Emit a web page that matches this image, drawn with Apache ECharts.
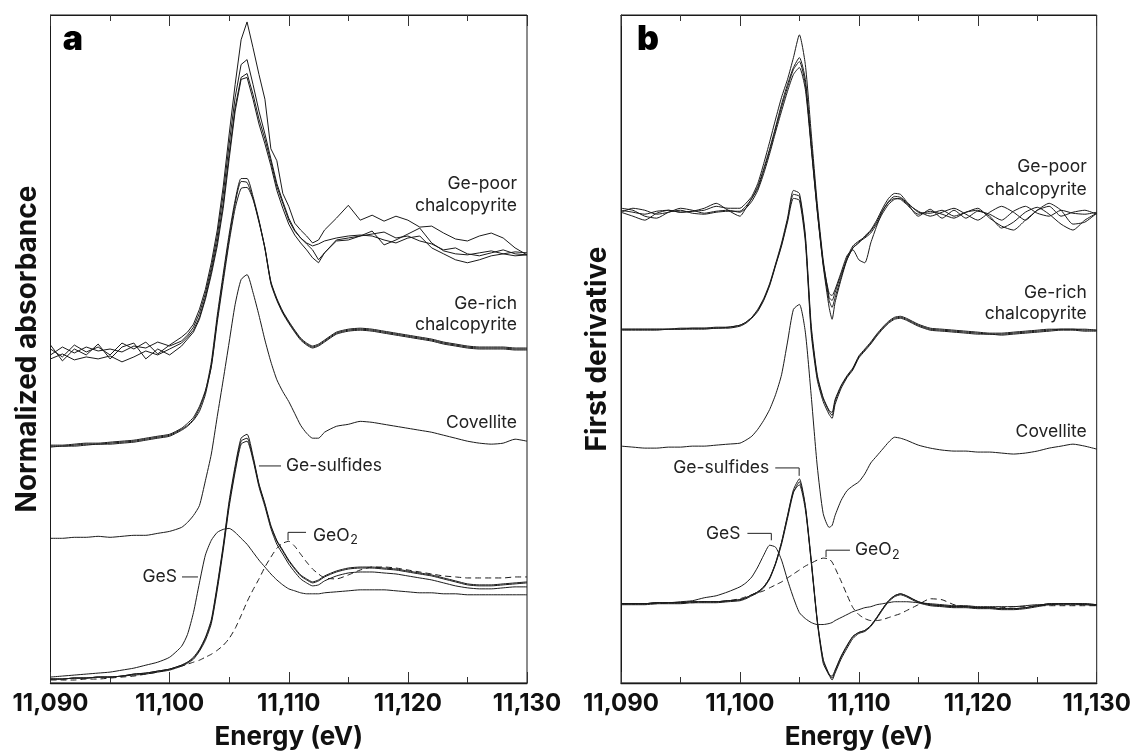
<!DOCTYPE html>
<html><head><meta charset="utf-8">
<script src="https://cdn.jsdelivr.net/npm/echarts@6/dist/echarts.min.js"></script>
<style>html,body{margin:0;padding:0;background:#fff}#c{width:1134px;height:755px}</style>
</head><body><div id="c"></div>
<script>
// ---------- DATA (arbitrary units, stacked offsets as in the figure) ----------
const energyA = [11090,11091,11092,11093,11094,11095,11096,11097,11098,11099,11100,11101,11101.5,11102,11102.5,11103,11103.5,11104,11104.5,11105,11105.5,11106,11106.5,11107,11107.5,11108,11108.5,11109,11109.5,11110,11110.5,11111,11111.5,11112,11112.5,11113,11114,11115,11116,11117,11118,11119,11120,11121,11122,11123,11124,11125,11126,11127,11128,11129,11130];

const gePoorA1 = [337,329,341,334,339,331,343,337,344,332,341,349, 354,362,377,397,424,457,501,554,604,649,667, 641,614,589,539,527,494,481,464,457,451,444,447,457, 469,482,467,472,466,471,467,460,461,454,448,446,451,454,449,439,432];
const gePoorA2 = [331,339,333,339,335,337,334,340,338,344,340,345, 351,359,373,393,419,451,493,544,591,624,629, 604,577,554,529,504,486,469,457,449,443,437,427,434, 447,449,451,453,455,449,451,446,443,437,439,433,431,434,437,433,432];
const gePoorA3 = [327,332,326,329,327,330,324,329,335,331,337,343, 349,356,369,389,415,445,484,534,581,611,615, 594,569,549,526,501,484,467,456,449,444,441,443,446, 449,451,452,451,447,444,449,451,439,433,427,424,427,431,433,435,434];
const gePoorA4 = [341,325,337,331,342,327,339,343,327,337,331,340, 347,354,367,387,412,441,479,529,577,609,611, 589,564,544,522,497,479,463,452,444,437,429,424,434, 446,447,451,456,442,447,453,459,444,436,433,432,434,436,433,431,432];

const geRichA1 = [239,239,240,241,241,242,243,244,246,248,250,256, 260,266,277,294,324,371,413,453,487,509,509, 491,467,439,404,387,374,364,355,347,342,339,341,345, 353,356,357,356,354,352,350,348,346,343,341,339,338,338,338,337,337];
const geRichA2 = [238,239,239,240,241,241,242,243,245,247,249,255, 259,265,274,291,320,367,409,449,484,506,505, 489,466,438,403,386,373,363,354,346,341,338,340,344, 352,355,356,355,353,351,349,347,345,342,340,338,337,337,337,336,336];
const geRichA3 = [240,240,241,242,242,243,244,245,247,249,251,257, 262,268,279,295,319,364,405,445,479,499,500, 488,465,439,405,388,375,365,356,348,343,340,342,346, 354,357,358,357,355,353,351,349,347,344,342,340,339,339,339,338,338];

const covelliteA = [146,146,147,147,148,147,148,149,149,151,153,157, 162,169,179,204,231,269,306,344,382,407,412, 394,371,346,324,306,294,284,272,260,252,247,247,253, 259,261,264,263,261,259,257,255,253,250,247,244,242,241,242,246,244];

const geSulfidesA1 = [4,4,5,5,6,6,7,9,10,12,14,18, 21,26,34,46,64,99,139,184,219,247,251, 229,201,181,159,144,134,124,116,109,105,102,104,108, 113,116,117,117,116,115,113,111,109,106,103,100,99,99,100,101,102];
const geSulfidesA2 = [4,4,5,5,6,6,7,9,10,12,14,18, 21,25,33,45,62,97,137,181,216,244,247, 227,200,180,158,143,133,123,115,108,104,101,103,107, 112,115,116,116,115,114,112,110,108,105,102,99,98,98,99,100,101];
const geSulfidesA3 = [4,4,5,5,6,6,7,8,9,11,13,17, 20,24,32,43,60,94,134,178,213,241,244, 225,198,178,156,140,130,120,112,105,101,98,99,103, 108,111,112,112,111,110,108,106,104,101,98,96,95,95,96,97,97];

const gesA = [6,7,8,9,10,11,13,15,18,21,26,37, 49,71,101,129,144,152,155,156,152,146,140, 132,124,117,110,104,99,95,93,91,90,90,90,91, 92,93,94,94,94,93,92,91,91,90,90,89,89,89,89,89,89];
const geo2A = [3,3,3,4,4,5,6,7,9,11,14,17, 19,21,23,26,29,33,38,45,55,68,82, 94,105,117,127,136,141,143,138,130,122,115,110,106, 105,109,114,117,117,116,114,112,110,108,107,106,106,106,106,107,107];

const energyB = [11090,11091,11092,11093,11094,11095,11096,11097,11098,11099,11100,11100.5,11101,11101.5,11102,11102.5,11103,11103.5,11104,11104.5,11105,11105.5,11106,11106.5,11107,11107.5,11107.75,11108,11108.5,11109,11109.5,11110,11110.5,11111,11111.5,11112,11112.5,11113,11113.5,11114,11115,11116,11117,11118,11119,11120,11121,11122,11123,11124,11125,11126,11127,11128,11129,11130];

const gePoorB1 = [477,475,473,476,477,475,476,477,481,479,479, 484,491,504,524,546,569,591,609,631,654,624,554,484,427,389,386,394,412,427,439,444,451,457,467,479,489,494,493,486, 475,474,477,471,475,479,469,461,457,467,477,484,477,463,465,474];
const gePoorB2 = [479,477,471,469,475,477,474,473,475,476,476, 481,489,501,519,539,561,584,604,621,631,609,544,479,424,393,391,397,414,431,437,427,424,444,461,476,486,491,490,485, 471,478,469,477,469,476,473,467,476,481,474,471,477,474,473,475];
const gePoorB3 = [475,479,477,473,475,479,477,474,476,477,475, 479,486,497,514,534,556,577,597,614,621,599,539,476,421,379,367,384,407,427,439,445,449,454,463,474,483,488,489,484, 476,471,475,479,473,467,475,481,475,467,477,481,471,475,477,473];
const gePoorB4 = [475,471,467,474,477,475,476,479,484,477,471, 479,489,499,517,537,559,581,601,619,627,604,541,477,423,386,379,389,409,429,441,446,450,456,465,477,485,489,488,483, 473,476,473,469,475,477,471,459,465,475,480,473,463,457,467,474];

const geRichB1 = [357,357,357,357,357,357,358,358,358,359,361, 364,369,376,387,402,422,442,467,493,491,449,356,309,287,274,270,284,299,309,317,329,336,343,351,358,364,368,369,367, 361,357,356,355,354,353,352,352,353,354,355,356,357,357,356,356];
const geRichB2 = [357,357,357,357,357,358,358,358,359,359,361, 364,369,377,388,403,423,444,469,497,494,452,360,311,288,275,273,286,300,310,318,330,337,344,352,359,365,369,370,368, 362,358,357,356,355,354,353,353,354,355,356,357,357,357,357,356];
const geRichB3 = [356,356,356,356,357,357,357,357,358,358,360, 363,368,375,386,401,421,441,465,489,487,445,352,306,284,271,267,281,297,308,316,328,335,342,350,357,363,367,368,366, 360,356,355,354,353,352,352,351,352,353,354,355,356,356,355,355];

const covelliteB = [239,238,237,237,238,238,239,239,240,241,242, 245,249,256,265,276,291,311,344,377,382,354,289,219,171,157,159,169,184,194,199,203,211,222,229,236,243,248,247,245, 240,237,235,234,234,233,233,232,231,232,234,237,239,241,239,236];

const geSulfidesB1 = [80,80,80,81,81,81,82,82,82,83,84, 86,89,92,97,106,121,142,169,195,206,179,124,64,24,9,5,12,26,37,47,51,53,58,66,75,83,88,90,88, 82,79,78,77,77,76,76,75,75,76,78,80,80,80,80,79];
const geSulfidesB2 = [80,80,80,81,81,81,82,82,82,83,84, 86,89,92,97,106,121,142,168,193,200,175,122,63,23,8,7,13,27,38,47,51,53,58,66,75,83,88,90,88, 82,79,78,77,77,76,76,75,75,76,78,80,80,80,80,79];
const geSulfidesB3 = [79,79,79,80,80,80,81,81,81,82,83, 85,88,91,96,105,120,140,166,192,203,178,121,62,20,8,3,10,24,35,45,50,52,57,65,74,82,87,89,87, 81,78,77,76,76,75,75,74,74,75,77,79,79,79,79,78];

const gesB = [80,80,80,81,81,82,83,86,88,92,97, 101,107,117,129,139,137,124,104,86,71,65,61,59,59,60,61,63,66,69,72,74,76,77,79,80,81,82,82,82, 81,80,79,78,78,77,77,77,77,78,79,79,80,80,79,79];
const geo2B = [80,80,80,80,81,81,81,82,82,83,85, 87,89,91,93,96,99,102,106,110,114,118,121,124,126,125,122,116,103,89,76,69,65,63,63,64,66,68,70,73, 79,85,84,79,77,76,76,76,77,77,78,78,78,78,78,78];

const xTicks = {min: 11090, max: 11130, major: 10, minorSplit: 2};

// ---------- CHART ----------
const FONT = 'Inter, "Noto Sans", "DejaVu Sans", sans-serif';
const INK = '#1a1a1a';
const chart = echarts.init(document.getElementById('c'), null, {renderer: 'canvas'});

function fmt(v){ return String(v).replace(/\B(?=(\d{3})+(?!\d))/g, ','); }
function pairs(xs, ys){ return xs.map((x, i) => [x, ys[i]]); }

function xAxisDef(gi, bottom){
  const a = {
    type: 'value', gridIndex: gi, position: bottom ? 'bottom' : 'top',
    min: xTicks.min, max: xTicks.max, interval: xTicks.major,
    axisLine: {show: true, lineStyle: {color: INK, width: bottom ? 1.4 : 1}},
    axisTick: {show: true, inside: true, length: 11, lineStyle: {color: '#333', width: 1}},
    minorTick: {show: true, splitNumber: xTicks.minorSplit, length: 6, lineStyle: {color: '#333', width: 1}},
    splitLine: {show: false}, minorSplitLine: {show: false},
    axisLabel: {show: bottom, formatter: fmt, fontFamily: FONT, fontSize: 24, fontWeight: 'bold', color: '#111', margin: 9}
  };
  if (bottom) {
    a.name = 'Energy (eV)'; a.nameLocation = 'middle'; a.nameGap = 41;
    a.nameTextStyle = {fontFamily: FONT, fontSize: 26, fontWeight: 'bold', color: '#111'};
  }
  return a;
}
function yAxisDef(gi, name){
  return {
    type: 'value', gridIndex: gi, min: 0, max: 674,
    axisLine: {show: true, lineStyle: {color: INK, width: 1}}, axisTick: {show: false}, axisLabel: {show: false}, splitLine: {show: false},
    name: name, nameLocation: 'middle', nameGap: 9,
    nameTextStyle: {fontFamily: FONT, fontSize: 28, fontWeight: 'bold', color: '#111'}
  };
}
function line(gi, xs, ys, opts){
  opts = opts || {};
  return {
    type: 'line', xAxisIndex: gi * 2, yAxisIndex: gi, data: pairs(xs, ys),
    showSymbol: false, symbol: 'none', smooth: opts.smooth === undefined ? 0.2 : opts.smooth,
    animation: false, silent: true, clip: true,
    lineStyle: {color: INK, width: opts.width || 1, type: opts.dash || 'solid'}
  };
}

const series = [
  line(0, energyA, gePoorA1, {smooth: false}), line(0, energyA, gePoorA2, {smooth: false}),
  line(0, energyA, gePoorA3, {smooth: false}), line(0, energyA, gePoorA4, {smooth: false}),
  line(0, energyA, geRichA1), line(0, energyA, geRichA2), line(0, energyA, geRichA3),
  line(0, energyA, covelliteA),
  line(0, energyA, geSulfidesA1), line(0, energyA, geSulfidesA2), line(0, energyA, geSulfidesA3),
  line(0, energyA, gesA),
  line(0, energyA, geo2A, {dash: [6, 4]}),
  line(1, energyB, gePoorB1), line(1, energyB, gePoorB2), line(1, energyB, gePoorB3), line(1, energyB, gePoorB4),
  line(1, energyB, geRichB1), line(1, energyB, geRichB2), line(1, energyB, geRichB3),
  line(1, energyB, covelliteB),
  line(1, energyB, geSulfidesB1), line(1, energyB, geSulfidesB2), line(1, energyB, geSulfidesB3),
  line(1, energyB, gesB),
  line(1, energyB, geo2B, {dash: [6, 4]})
];

chart.setOption({
  animation: false,
  backgroundColor: '#ffffff',
  grid: [
    {left: 50.5, top: 15, width: 476.5, height: 674, show: true, borderColor: INK, borderWidth: 1},
    {left: 621, top: 15, width: 478, height: 674, show: true, borderColor: INK, borderWidth: 1}
  ],
  xAxis: [xAxisDef(0, true), xAxisDef(0, false), xAxisDef(1, true), xAxisDef(1, false)],
  yAxis: [yAxisDef(0, 'Normalized absorbance'), yAxisDef(1, 'First derivative')],
  series: series
});

// ---------- ANNOTATIONS (anchored in data coordinates) ----------
const rightLabels = [
  {g: 0, e: 11129.16, h: 504, t: 'Ge-poor'}, {g: 0, e: 11129.16, h: 482, t: 'chalcopyrite'},
  {g: 0, e: 11129.16, h: 383, t: 'Ge-rich'}, {g: 0, e: 11129.16, h: 361, t: 'chalcopyrite'},
  {g: 0, e: 11129.16, h: 263, t: 'Covellite'},
  {g: 1, e: 11129.16, h: 521, t: 'Ge-poor'}, {g: 1, e: 11129.16, h: 498, t: 'chalcopyrite'},
  {g: 1, e: 11129.16, h: 394, t: 'Ge-rich'}, {g: 1, e: 11129.16, h: 373, t: 'chalcopyrite'},
  {g: 1, e: 11129.16, h: 254, t: 'Covellite'}
];
const refLabels = [
  {g: 0, e: 11109.77, h: 219, t: 'Ge-sulfides', align: 'left', lead: [[11107.5, 219], [11109.35, 219]]},
  {g: 0, e: 11100.62, h: 107, t: 'GeS', align: 'right', lead: [[11101.04, 107], [11102.38, 107]]},
  {g: 0, e: 11112.04, h: 149, t: 'GeO', sub: '2', align: 'left', lead: [[11109.94, 144], [11109.94, 152], [11111.45, 152]]},
  {g: 1, e: 11102.47, h: 217, t: 'Ge-sulfides', align: 'right', lead: [[11102.97, 217], [11104.98, 217], [11104.98, 209]]},
  {g: 1, e: 11100.04, h: 151, t: 'GeS', align: 'right', lead: [[11100.63, 151], [11102.64, 151], [11102.64, 144]]},
  {g: 1, e: 11109.67, h: 134, t: 'GeO', sub: '2', align: 'left', lead: [[11109.25, 134], [11107.24, 134], [11107.24, 127]]}
];
const panelLetters = [{g: 0, e: 11091.89, h: 649, t: 'a'}, {g: 1, e: 11092.26, h: 649, t: 'b'}];

function px(g, e, h){ return chart.convertToPixel({gridIndex: g}, [e, h]); }
const ANN_SIZE = 17.5;
const measureCtx = document.createElement('canvas').getContext('2d');
function textWidth(t, size){ measureCtx.font = 'normal ' + size + 'px ' + FONT; return measureCtx.measureText(t).width; }

const graphics = [];
const annFont = {fontFamily: FONT, fontSize: ANN_SIZE, fontWeight: 'normal', fill: '#222'};
rightLabels.forEach(l => {
  const p = px(l.g, l.e, l.h);
  graphics.push({type: 'text', x: p[0], y: p[1], silent: true,
    style: Object.assign({text: l.t, align: 'right', verticalAlign: 'middle'}, annFont)});
});
refLabels.forEach(l => {
  const p = px(l.g, l.e, l.h);
  graphics.push({type: 'text', x: p[0], y: p[1], silent: true,
    style: Object.assign({text: l.t, align: l.align, verticalAlign: 'middle'}, annFont)});
  if (l.sub) {
    const w = textWidth(l.t, ANN_SIZE);
    graphics.push({type: 'text', x: p[0] + w + 0.5, y: p[1] + 5, silent: true,
      style: Object.assign({text: l.sub, align: 'left', verticalAlign: 'middle'}, annFont, {fontSize: 12.5})});
  }
  graphics.push({type: 'polyline', silent: true,
    shape: {points: l.lead.map(q => px(l.g, q[0], q[1]))},
    style: {stroke: '#222', lineWidth: 1, fill: null}});
});
panelLetters.forEach(l => {
  const p = px(l.g, l.e, l.h);
  graphics.push({type: 'text', x: p[0], y: p[1], silent: true,
    style: {text: l.t, align: 'center', verticalAlign: 'middle', fontFamily: FONT, fontSize: 34, fontWeight: 900, fill: '#000'}});
});
chart.setOption({graphic: graphics});
</script>
</body></html>
